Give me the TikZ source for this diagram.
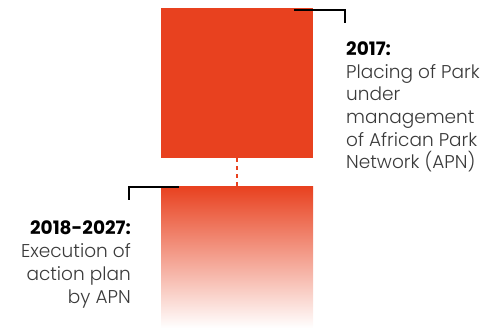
\documentclass[tikz,border=0pt]{standalone}
\usepackage{fontspec}
\setmainfont{Poppins}[UprightFont=* Light, BoldFont=* Bold]
\definecolor{apnred}{HTML}{E8411F}
\definecolor{txtgray}{HTML}{3A3A3A}
\begin{document}
\begin{tikzpicture}[x=1pt,y=-1pt,
  bracket/.style={draw=black, line width=2pt},
  label/.style={inner sep=0pt, font=\fontsize{18.5}{22.7}\selectfont, text=txtgray}]
\useasboundingbox (0,0) rectangle (486,328);
\node[fill=apnred, minimum width=152pt, minimum height=150pt, inner sep=0pt, anchor=north west] (top) at (161,8) {};
\node[top color=apnred, bottom color=white, minimum width=152pt, minimum height=142pt, inner sep=0pt, anchor=north west, draw=none] (bot) at (161,186) {};
\draw[apnred, line width=2pt, dash pattern=on 4pt off 4pt] (top.south) -- (bot.north);
\coordinate (b1a) at (294,10); \coordinate (b1b) at (345,10); \coordinate (b1c) at (345,23);
\draw[bracket] (b1a) -- (b1b) -- (b1c);
\coordinate (b2a) at (179,187); \coordinate (b2b) at (129,187); \coordinate (b2c) at (129,200);
\draw[bracket] (b2a) -- (b2b) -- (b2c);
\node[label, anchor=base west, align=left] (t1) at (346,169) {\textbf{\color{black}2017:}\\Placing of Park\\under\\management\\of African Park\\Network (APN)};
\node[label, anchor=base east, align=right] (t2) at (131,303) {\textbf{\color{black}2018-2027:}\\Execution of\\action plan\\by APN};
\end{tikzpicture}
\end{document}
